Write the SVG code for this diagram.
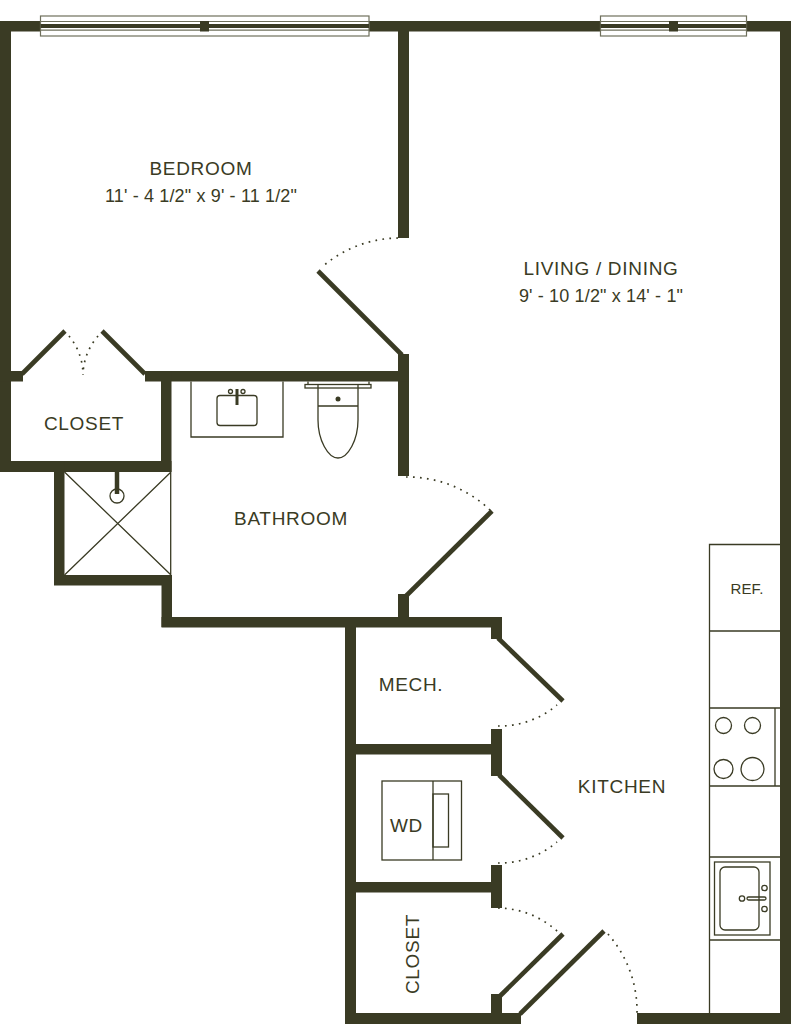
<svg xmlns="http://www.w3.org/2000/svg" width="791" height="1024" viewBox="0 0 791 1024">
<style>
.wall{fill:#3a3b24}
.door{stroke:#3a3b24;stroke-width:4.600;fill:none}
.swing{stroke:#3a3b24;stroke-width:1.700;fill:none;stroke-dasharray:1.700 5.300}
.fix{stroke:#3a3b24;stroke-width:1.300;fill:none}
.win{stroke:#6f705c;stroke-width:1.200;fill:#fff}
.lbl{font-family:"Liberation Sans",Arial,sans-serif;font-size:19px;fill:#3a3b24;text-anchor:middle;letter-spacing:.7px}
.sm{font-size:15px;letter-spacing:.1px}
.dim{font-size:18px;letter-spacing:.15px}
</style>
<rect width="791" height="1024" fill="#fff"/>
<g id="walls" class="wall">
<rect x="0" y="21" width="791" height="10.500"/>
<rect x="0" y="21" width="11" height="451"/>
<rect x="780" y="21" width="11" height="1003"/>
<rect x="637" y="1013" width="154" height="11"/>
<rect x="398" y="21" width="11" height="217"/>
<rect x="398" y="354" width="11" height="122"/>
<rect x="398" y="594" width="11" height="33"/>
<rect x="145" y="371" width="264" height="10.500"/>
<rect x="0" y="371" width="23" height="10.500"/>
<rect x="161" y="371" width="10.500" height="101"/>
<rect x="0" y="461" width="171.500" height="11"/>
<rect x="54" y="461" width="10.500" height="124"/>
<rect x="54" y="575" width="118" height="10.500"/>
<rect x="161.500" y="575" width="10.500" height="52"/>
<rect x="161.500" y="617" width="340.500" height="10.500"/>
<rect x="345" y="617" width="11" height="407"/>
<rect x="491" y="617" width="11" height="22"/>
<rect x="345" y="744" width="157" height="10.500"/>
<rect x="491" y="729" width="11" height="47"/>
<rect x="345" y="882" width="157" height="10.500"/>
<rect x="491" y="865" width="11" height="43"/>
<rect x="491" y="994" width="11" height="25"/>
<rect x="345" y="1013" width="176" height="11"/>
</g>
<g id="doors">
<path class="door" d="M402 355L318 271"/>
<path class="door" d="M406 596L492 511"/>
<path class="door" d="M498 638L563 701"/>
<path class="door" d="M499 775L563 838"/>
<path class="door" d="M500 996L563 934"/>
<path class="door" d="M520 1014L604 931"/>
<path class="door" d="M22 374L65 331"/>
<path class="door" d="M145 374L102 331"/>
</g>
<g id="door-swings">
<path class="swing" d="M398 238A118 118 0 0 0 322 267"/>
<path class="swing" d="M406 477A120 120 0 0 1 490 510"/>
<path class="swing" d="M498 726A89 89 0 0 0 557 705"/>
<path class="swing" d="M498 863A89 89 0 0 0 557 842"/>
<path class="swing" d="M498 908A89 89 0 0 1 558 932"/>
<path class="swing" d="M608 934A117 117 0 0 1 637 1014"/>
<path class="swing" d="M69 336A61 61 0 0 1 83 375"/>
<path class="swing" d="M98 336A61 61 0 0 0 83 375"/>
</g>
<g id="window-bedroom">
<rect class="win" x="40.500" y="16" width="328.500" height="20"/>
<path class="win" d="M40.500 21.500H369M40.500 30.200H369"/>
<rect class="wall" x="40.500" y="24" width="328.500" height="4"/>
<rect class="wall" x="200" y="21" width="9" height="10.500"/>
</g>
<g id="window-living">
<rect class="win" x="600.500" y="16" width="146" height="20"/>
<path class="win" d="M600.500 21.500H746.500M600.500 30.200H746.500"/>
<rect class="wall" x="600.500" y="24" width="146" height="4"/>
<rect class="wall" x="669" y="21" width="9" height="10.500"/>
</g>
<g id="vanity">
<path class="fix" d="M191 381.500V437H283V381.500"/>
<rect class="fix" x="217" y="395.500" width="40" height="30" rx="3"/>
<path d="M237 389V405" stroke="#3a3b24" stroke-width="3" fill="none"/>
<circle class="fix" cx="230.500" cy="391.500" r="2"/>
<circle class="fix" cx="243" cy="391.500" r="2"/>
</g>
<g id="toilet">
<path class="fix" d="M308 381.500V384.500M369 381.500V384.500"/>
<rect class="fix" x="305" y="384.500" width="66" height="3.500"/>
<path class="fix" d="M318 384V420C318 440 328 458 338 458C348 458 358 440 358 420V384M318 406H358"/>
<circle cx="338" cy="399" r="2.500" fill="#3a3b24"/>
</g>
<g id="shower">
<path class="fix" d="M64.500 472L171 575M171 472L64.500 575M170.700 472V575"/>
<path d="M117 472V494" stroke="#3a3b24" stroke-width="4.500" fill="none"/>
<circle class="fix" cx="117" cy="496" r="7"/>
</g>
<g id="counter">
<path class="fix" d="M709.500 1013V544.500H780M709.500 631H780M709.500 708H780M709.500 786H780M775 708V786M709.500 857H780M709.500 940H780"/>
<circle class="fix" cx="723.500" cy="725.500" r="8"/>
<circle class="fix" cx="752.500" cy="725.500" r="8"/>
<circle class="fix" cx="723.500" cy="769" r="9.500"/>
<circle class="fix" cx="752.500" cy="769" r="11.500"/>
</g>
<g id="kitchen-sink">
<rect class="fix" x="714.500" y="862" width="55.500" height="73"/>
<rect class="fix" x="720" y="867" width="39" height="63" rx="5"/>
<circle class="fix" cx="764.500" cy="888" r="2.700"/>
<circle class="fix" cx="764.500" cy="909" r="2.700"/>
<circle class="fix" cx="742" cy="898.500" r="2.700"/>
<rect class="fix" x="747" y="897" width="19" height="3" rx="1.500"/>
</g>
<g id="washer-dryer">
<rect class="fix" x="382" y="781" width="79.500" height="79"/>
<path class="fix" d="M433 781V860"/>
<rect class="fix" x="433" y="794" width="15.500" height="53"/>
<text class="lbl" x="406.500" y="832">WD</text>
</g>
<g id="room-bedroom">
<text class="lbl" x="201" y="175">BEDROOM</text>
<text class="lbl dim" x="201" y="202">11' - 4 1/2" x 9' - 11 1/2"</text>
</g>
<g id="room-living">
<text class="lbl" x="601" y="275">LIVING / DINING</text>
<text class="lbl dim" x="601" y="302">9' - 10 1/2" x 14' - 1"</text>
</g>
<g id="room-closet-1"><text class="lbl" x="84" y="429.500">CLOSET</text></g>
<g id="room-bathroom"><text class="lbl" x="291" y="525">BATHROOM</text></g>
<g id="room-ref"><text class="lbl sm" x="747" y="594">REF.</text></g>
<g id="room-mech"><text class="lbl" x="411" y="691">MECH.</text></g>
<g id="room-kitchen"><text class="lbl" x="622" y="793">KITCHEN</text></g>
<g id="room-closet-2"><text class="lbl" transform="translate(419 954) rotate(-90)">CLOSET</text></g>
</svg>
